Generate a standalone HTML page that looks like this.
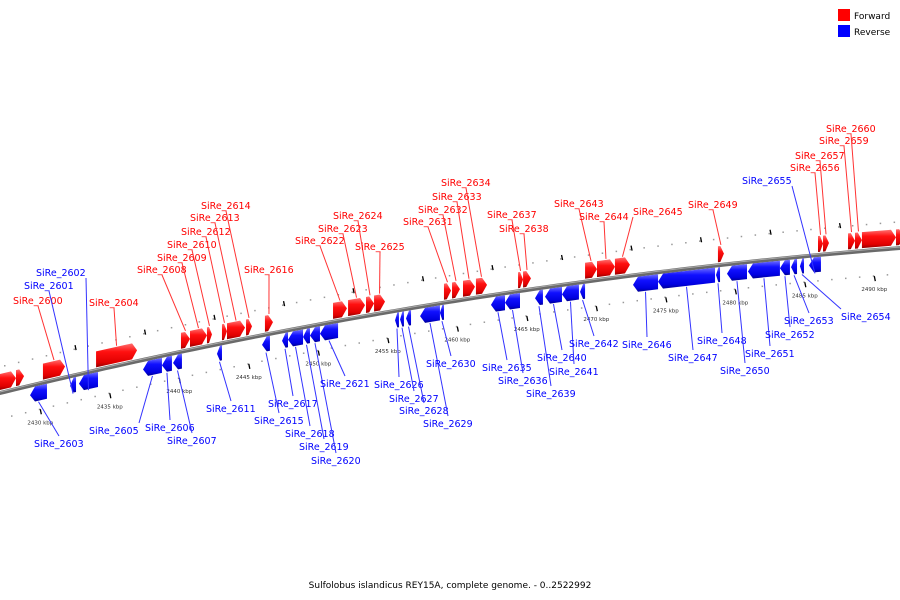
<!DOCTYPE html>
<html><head><meta charset="utf-8">
<style>
body{margin:0;background:#fff;}
svg{display:block;font-family:"DejaVu Sans","Liberation Sans",sans-serif;}
</style></head>
<body>
<svg id="chart" width="900" height="600" viewBox="0 0 900 600" xmlns="http://www.w3.org/2000/svg">
<defs>
<linearGradient id="gf" x1="0" y1="0" x2="0" y2="1"><stop offset="0" stop-color="#ff7070"/><stop offset="0.35" stop-color="#ff1010"/><stop offset="0.8" stop-color="#e00000"/><stop offset="1" stop-color="#900000"/></linearGradient>
<linearGradient id="gr" x1="0" y1="0" x2="0" y2="1"><stop offset="0" stop-color="#7070ff"/><stop offset="0.35" stop-color="#1010ff"/><stop offset="0.8" stop-color="#0000e0"/><stop offset="1" stop-color="#000090"/></linearGradient>
</defs>
<g>
<rect x="838" y="9" width="12" height="12" fill="#f00"/>
<text x="854" y="19" font-size="9">Forward</text>
<rect x="838" y="25" width="12" height="12" fill="#00f"/>
<text x="854" y="35" font-size="9">Reverse</text>
</g>
<text x="450" y="588" font-size="9" text-anchor="middle">Sulfolobus islandicus REY15A, complete genome. - 0..2522992</text>
<g id="layer"></g>
</svg>
<script>
// Gene data
const fwdNames=["","","SiRe_2600","SiRe_2604","SiRe_2608","SiRe_2609","SiRe_2610","SiRe_2612","SiRe_2613","SiRe_2614","SiRe_2616","SiRe_2622","SiRe_2623","SiRe_2624","SiRe_2625","SiRe_2631","SiRe_2632","SiRe_2633","SiRe_2634","SiRe_2637","SiRe_2638","SiRe_2643","SiRe_2644","SiRe_2645","SiRe_2649","SiRe_2656","SiRe_2657","SiRe_2659","SiRe_2660","",""];
const fwdStart=[2427.10,2428.25,2430.19,2434.01,2440.12,2440.77,2441.99,2443.07,2443.43,2444.80,2446.16,2451.06,2452.14,2453.43,2454.01,2459.04,2459.62,2460.41,2461.34,2464.37,2464.73,2469.19,2470.05,2471.34,2478.75,2485.95,2486.31,2488.11,2488.61,2489.11,2491.56];
const fwdEnd=[2428.25,2428.83,2431.78,2436.96,2440.77,2441.99,2442.35,2443.43,2444.73,2445.23,2446.74,2452.06,2453.36,2454.01,2454.80,2459.55,2460.19,2461.27,2462.14,2464.73,2465.30,2470.05,2471.34,2472.42,2479.18,2486.31,2486.74,2488.61,2489.11,2491.56,2492.13];
const revNames=["SiRe_2603","SiRe_2601","SiRe_2602","SiRe_2605","SiRe_2606","SiRe_2607","SiRe_2611","SiRe_2615","SiRe_2617","SiRe_2618","SiRe_2619","SiRe_2620","SiRe_2621","SiRe_2626","SiRe_2627","SiRe_2628","SiRe_2629","SiRe_2630","SiRe_2635","SiRe_2636","SiRe_2639","SiRe_2640","SiRe_2641","SiRe_2642","SiRe_2646","SiRe_2647","SiRe_2648","SiRe_2650","SiRe_2651","SiRe_2652","SiRe_2653","SiRe_2654","SiRe_2655"];
const revStart=[2429.26,2432.14,2432.78,2437.39,2438.75,2439.55,2442.71,2445.95,2447.39,2447.82,2448.90,2449.40,2450.12,2455.52,2455.88,2456.31,2457.32,2458.75,2462.42,2463.43,2465.59,2466.31,2467.53,2468.83,2472.64,2474.44,2478.61,2479.40,2480.91,2483.21,2484.01,2484.65,2485.30];
const revEnd=[2430.48,2432.57,2434.15,2438.75,2439.47,2440.19,2443.07,2446.52,2447.82,2448.90,2449.40,2450.12,2451.42,2455.80,2456.16,2456.67,2458.75,2459.04,2463.43,2464.51,2466.16,2467.53,2468.75,2469.19,2474.44,2478.54,2478.90,2480.84,2483.21,2483.93,2484.44,2484.94,2486.16];
const tickKbp=[2430,2435,2440,2445,2450,2455,2460,2465,2470,2475,2480,2485,2490];
// Label layout (text left x, center y) keyed by gene name
const labelPos={"SiRe_2600":[13,300],"SiRe_2604":[89,302],"SiRe_2608":[137,269],"SiRe_2609":[157,257],"SiRe_2610":[167,244],"SiRe_2612":[181,231],"SiRe_2613":[190,217],"SiRe_2614":[201,205],"SiRe_2616":[244,269],"SiRe_2622":[295,240],"SiRe_2623":[318,228],"SiRe_2624":[333,215],"SiRe_2625":[355,246],"SiRe_2631":[403,221],"SiRe_2632":[418,209],"SiRe_2633":[432,196],"SiRe_2634":[441,182],"SiRe_2637":[487,214],"SiRe_2638":[499,228],"SiRe_2643":[554,203],"SiRe_2644":[579,216],"SiRe_2645":[633,211],"SiRe_2649":[688,204],"SiRe_2656":[790,167],"SiRe_2657":[795,155],"SiRe_2659":[819,140],"SiRe_2660":[826,128],
"SiRe_2602":[36,272],"SiRe_2601":[24,285],"SiRe_2603":[34,443],"SiRe_2605":[89,430],"SiRe_2606":[145,427],"SiRe_2607":[167,440],"SiRe_2611":[206,408],"SiRe_2615":[254,420],"SiRe_2617":[268,403],"SiRe_2618":[285,433],"SiRe_2619":[299,446],"SiRe_2620":[311,460],"SiRe_2621":[320,383],"SiRe_2626":[374,384],"SiRe_2627":[389,398],"SiRe_2628":[399,410],"SiRe_2629":[423,423],"SiRe_2630":[426,363],"SiRe_2635":[482,367],"SiRe_2636":[498,380],"SiRe_2639":[526,393],"SiRe_2640":[537,357],"SiRe_2641":[549,371],"SiRe_2642":[569,343],"SiRe_2646":[622,344],"SiRe_2647":[668,357],"SiRe_2648":[697,340],"SiRe_2650":[720,370],"SiRe_2651":[745,353],"SiRe_2652":[765,334],"SiRe_2653":[784,320],"SiRe_2654":[841,316],"SiRe_2655":[742,180]};

const NS="http://www.w3.org/2000/svg";
const layer=document.getElementById('layer');
const xs=k=>(k-2427.1)*13.9;
const by=x=>393-0.2444*x+0.0000926*x*x;
function mk(tag,attrs){const e=document.createElementNS(NS,tag);for(const k in attrs)e.setAttribute(k,attrs[k]);layer.appendChild(e);return e;}

for(let x=4;x<900;x+=13.9){
  const d1=mk('rect',{x:x,y:by(x)-27,width:1.5,height:1.5,fill:'#999'});
  
  
  const d2=mk('rect',{x:x+7,y:by(x+7)+25,width:1.5,height:1.5,fill:'#999'});
  
  
}
for(let i=0;i<tickKbp.length;i++){
  const x=xs(tickKbp[i]);const y=by(x);
  const t=mk('line',{x1:x,y1:y+26,x2:x+1,y2:y+31,stroke:'#000','stroke-width':1.3});
  
  
  const l=mk('text',{x:x,y:y+41,'font-size':5.5,'text-anchor':'middle',fill:'#333'});
  l.textContent=tickKbp[i]+' kbp';
  
  
  const x2=xs(tickKbp[i]+2.5);const y2=by(x2);
  const t2=mk('line',{x1:x2,y1:y2-30,x2:x2+1,y2:y2-25,stroke:'#000','stroke-width':1.3});
  
  
}
let p='';for(let x=-5;x<=905;x+=10)p+=(x<0?'M':'L')+x+','+by(x);
const bb=mk('path',{d:p,stroke:'#6a6a6a','stroke-width':4,fill:'none'});


const bb2=mk('path',{d:p,stroke:'#aaa','stroke-width':1,fill:'none',transform:'translate(0,-1)'});



function gene(name,s,e,fwd){
  const x1=xs(s),x2=xs(e);const w=x2-x1;const h=Math.min(5,w*0.6);
  const y1=by(x1),y2=by(x2);
  const top=fwd?-19:2,bot=fwd?-3:17;
  let pts;
  if(fwd){const xm=x2-h,ym=by(xm);
    pts=[[x1,y1+top],[xm,ym+top],[x2,y2+(top+bot)/2],[xm,ym+bot],[x1,y1+bot]];}
  else{const xm=x1+h,ym=by(xm);
    pts=[[x1,y1+(top+bot)/2],[xm,ym+top],[x2,y2+top],[x2,y2+bot],[xm,ym+bot]];}
  const g=mk('polygon',{points:pts.map(q=>q.join(',')).join(' '),fill:fwd?'url(#gf)':'url(#gr)'});
  
  
  if(name&&labelPos[name]){
    const [lx,ly]=labelPos[name];const col=fwd?'#f00':'#00f';
    const mx=(x1+x2)/2,my=by(mx)+(fwd?top-1:bot+1);
    const tw=50;
    const sx=mx<lx?lx:(mx>lx+tw?lx+tw:lx+tw/2);
    const sy=ly+(my>ly?6:-7);
    const ln=mk('line',{x1:sx,y1:sy,x2:mx,y2:my,stroke:fwd?'#f33':'#33f','stroke-width':1});
    
    
    const t=mk('text',{x:lx,y:ly+4,'font-size':9.5,fill:col});
    t.textContent=name;
    
    
  }
}
for(let i=0;i<fwdNames.length;i++)gene(fwdNames[i],fwdStart[i],fwdEnd[i],true);
for(let i=0;i<revNames.length;i++)gene(revNames[i],revStart[i],revEnd[i],false);
</script>
</body></html>
